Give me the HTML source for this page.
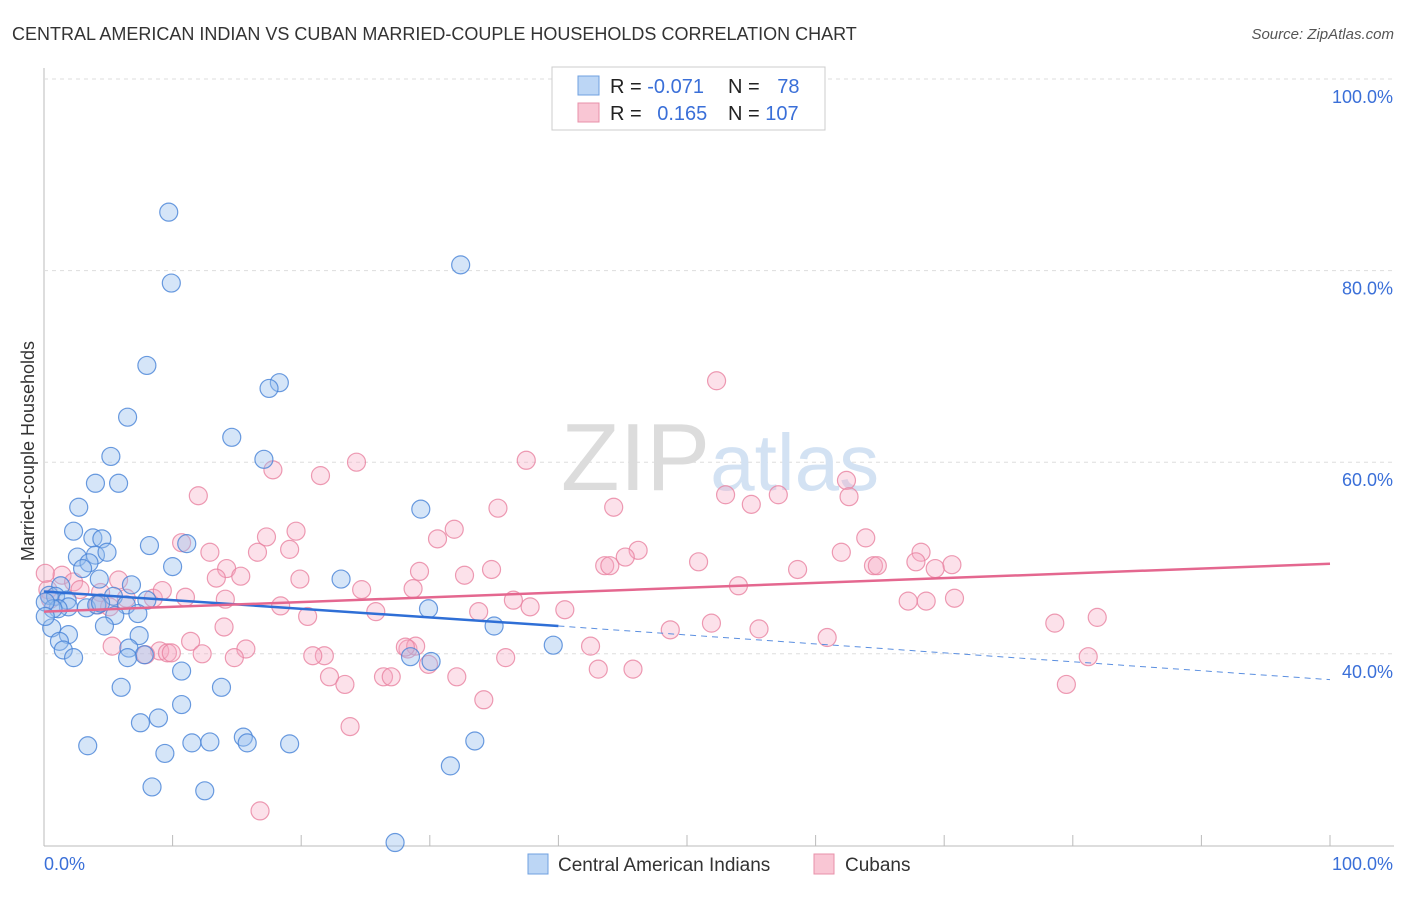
<!DOCTYPE html>
<html><head><meta charset="utf-8"><style>
body{margin:0;background:#fff;font-family:"Liberation Sans",sans-serif;}
svg text{font-family:"Liberation Sans",sans-serif;}
</style></head><body>
<svg id="c" width="1406" height="892">
<text x="12" y="40" font-size="18" fill="#333">CENTRAL AMERICAN INDIAN VS CUBAN MARRIED-COUPLE HOUSEHOLDS CORRELATION CHART</text>
<text x="1394" y="39" font-size="15" fill="#555" font-style="italic" text-anchor="end">Source: ZipAtlas.com</text>
<text x="40" y="457" font-size="18" fill="#333" transform="rotate(-90 34 457)" text-anchor="middle">Married-couple Households</text>
<g id="grid"></g>
<text x="720" y="490" font-size="96" fill="#e4e4e4" text-anchor="middle" font-family="Liberation Serif"><tspan fill="#dcdcdc">ZIP</tspan><tspan fill="#d3e2f3" font-family="Liberation Sans" font-size="80">atlas</tspan></text>
<g id="pts"></g>
<g id="lines"></g>
<g>
<rect x="552" y="67" width="273" height="63" fill="#fff" stroke="#ccc"/>
<rect x="578" y="76" width="21" height="19" fill="#bcd6f5" stroke="#6fa0e0"/>
<rect x="578" y="103" width="21" height="19" fill="#f9c6d4" stroke="#e890aa"/>
<text x="610" y="93" font-size="20" fill="#222">R = <tspan fill="#3a6fd8">-0.071</tspan></text>
<text x="728" y="93" font-size="20" fill="#222">N = <tspan fill="#3a6fd8" dx="12">78</tspan></text>
<text x="610" y="120" font-size="20" fill="#222">R = <tspan fill="#3a6fd8" dx="10">0.165</tspan></text>
<text x="728" y="120" font-size="20" fill="#222">N = <tspan fill="#3a6fd8">107</tspan></text>
</g>
<g>
<rect x="528" y="854" width="20" height="20" fill="#bcd6f5" stroke="#6fa0e0"/>
<text x="558" y="871" font-size="19" fill="#333">Central American Indians</text>
<rect x="814" y="854" width="20" height="20" fill="#f9c6d4" stroke="#e890aa"/>
<text x="845" y="871" font-size="19" fill="#333">Cubans</text>
</g>
<text x="44" y="870" font-size="18" fill="#3a6fd8">0.0%</text>
<text x="1393" y="870" font-size="18" fill="#3a6fd8" text-anchor="end">100.0%</text>
</svg>
<script>
const yTicks=[100,80,60,40];
const yTickLabels=["100.0%","80.0%","60.0%","40.0%"];
const blueX=[9.7,9.9,32.4,8.0,18.3,17.5,6.5,14.6,5.2,17.1,4.0,5.8,2.7,29.3,2.3,3.8,4.5,11.1,8.2,2.6,4.0,4.9,3.5,3.0,10.0,4.3,6.8,23.1,1.3,5.4,8.0,0.4,0.9,1.8,1.9,6.4,3.3,4.1,1.1,4.4,29.9,7.3,5.5,0.7,4.7,0.6,35.0,1.9,7.4,1.2,6.6,1.5,7.8,6.5,2.3,39.6,28.5,30.1,10.7,6.0,13.8,10.7,8.9,7.5,3.4,11.5,12.9,15.5,15.8,19.1,9.4,33.5,31.6,8.4,12.5,27.3,0.1,0.1];
const blueY=[86.1,78.7,80.6,70.1,68.3,67.7,64.7,62.6,60.6,60.3,57.8,57.8,55.3,55.1,52.8,52.1,52.0,51.5,51.3,50.1,50.3,50.6,49.5,48.9,49.1,47.8,47.2,47.8,47.1,46.0,45.6,46.1,46.0,45.6,44.9,45.1,44.8,45.1,44.7,45.3,44.7,44.2,44.0,44.7,42.9,42.7,42.9,42.0,41.9,41.3,40.6,40.4,39.9,39.6,39.6,40.9,39.7,39.2,38.2,36.5,36.5,34.7,33.3,32.8,30.4,30.7,30.8,31.3,30.7,30.6,29.6,30.9,28.3,26.1,25.7,20.3,45.4,43.9];
const pinkX=[52.3,17.8,21.5,24.3,37.5,62.4,62.6,12.0,53.0,44.3,35.3,55.0,57.1,19.6,31.9,17.3,30.6,10.7,63.9,46.2,12.9,16.6,19.1,62.0,68.2,45.2,43.6,44.0,50.9,67.8,64.5,64.8,70.6,69.3,58.6,32.7,34.8,14.2,15.3,13.4,19.9,29.2,1.4,2.3,5.8,2.8,24.7,28.7,54.0,11.0,8.5,36.5,37.8,40.5,25.8,33.8,20.5,68.6,70.8,67.2,4.4,6.4,4.2,5.1,9.2,14.1,18.4,48.7,51.9,78.6,81.9,55.6,60.9,11.4,5.3,9.0,9.6,7.9,9.9,12.3,15.7,21.8,28.3,28.9,42.5,81.2,14.0,28.1,20.9,35.9,14.8,43.1,29.9,32.1,45.8,22.2,23.4,26.4,27.0,23.8,34.2,79.5,16.8,0.3,0.5,0.1];
const pinkY=[68.5,59.2,58.6,60.0,60.2,58.1,56.4,56.5,56.6,55.3,55.2,55.6,56.6,52.8,53.0,52.2,52.0,51.6,52.1,50.8,50.6,50.6,50.9,50.6,50.6,50.1,49.2,49.2,49.6,49.6,49.2,49.2,49.3,48.9,48.8,48.2,48.8,48.9,48.1,47.9,47.8,48.6,48.2,47.5,47.7,46.7,46.7,46.8,47.1,45.9,45.8,45.6,44.9,44.6,44.4,44.4,43.9,45.5,45.8,45.5,46.4,45.8,45.1,44.9,46.6,45.7,45.0,42.5,43.2,43.2,43.8,42.6,41.7,41.3,40.8,40.3,40.1,39.9,40.1,40.0,40.5,39.8,40.5,40.8,40.8,39.7,42.8,40.7,39.8,39.6,39.6,38.4,38.9,37.6,38.4,37.6,36.8,37.6,37.6,32.4,35.2,36.8,23.6,46.7,45.7,48.4];
const blueTrend=[[0,46.5],[40,42.9]], blueDash=[[40,42.9],[100,37.3]];
const pinkTrend=[[0,44.4],[100,49.4]];
const xS=v=>44+v*12.86, yS=v=>79+(100-v)*9.58;
const NS="http://www.w3.org/2000/svg";
function mk(t,a,p){const e=document.createElementNS(NS,t);for(const k in a)e.setAttribute(k,a[k]);p.appendChild(e);return e;}
const grid=document.getElementById('grid');
mk('line',{x1:44,y1:68,x2:44,y2:846,stroke:'#bbb'},grid);
mk('line',{x1:44,y1:846,x2:1394,y2:846,stroke:'#bbb'},grid);
for(let i=0;i<=10;i++){const x=xS(i*10);mk('line',{x1:x,y1:846,x2:x,y2:835,stroke:'#bbb'},grid);}
yTicks.forEach((t,i)=>{const y=yS(t);
const g=mk('line',{x1:44,y1:y,x2:1394,y2:y,stroke:'#ddd','stroke-dasharray':'4,4'},grid);


const tx=mk('text',{x:1393,y:y+24,'font-size':18,fill:'#3a6fd8','text-anchor':'end'},grid);tx.textContent=yTickLabels[i];

});
const pts=document.getElementById('pts');
pinkX.forEach((x,i)=>{const c=mk('circle',{cx:xS(x),cy:yS(pinkY[i]),r:9,fill:'rgba(246,170,194,0.35)',stroke:'rgba(232,130,160,0.8)','stroke-width':1.2},pts);

});
blueX.forEach((x,i)=>{const c=mk('circle',{cx:xS(x),cy:yS(blueY[i]),r:9,fill:'rgba(150,190,238,0.4)',stroke:'rgba(70,130,215,0.8)','stroke-width':1.2},pts);

});
const L=document.getElementById('lines');
const bl=mk('line',{x1:xS(blueTrend[0][0]),y1:yS(blueTrend[0][1]),x2:xS(blueTrend[1][0]),y2:yS(blueTrend[1][1]),stroke:'#2f6fd6','stroke-width':2.5},L);


const bd=mk('line',{x1:xS(blueDash[0][0]),y1:yS(blueDash[0][1]),x2:xS(blueDash[1][0]),y2:yS(blueDash[1][1]),stroke:'#5b8fe0','stroke-width':1,'stroke-dasharray':'6,5'},L);


const pl=mk('line',{x1:xS(pinkTrend[0][0]),y1:yS(pinkTrend[0][1]),x2:xS(pinkTrend[1][0]),y2:yS(pinkTrend[1][1]),stroke:'#e4678f','stroke-width':2.5},L);


</script>
</body></html>
